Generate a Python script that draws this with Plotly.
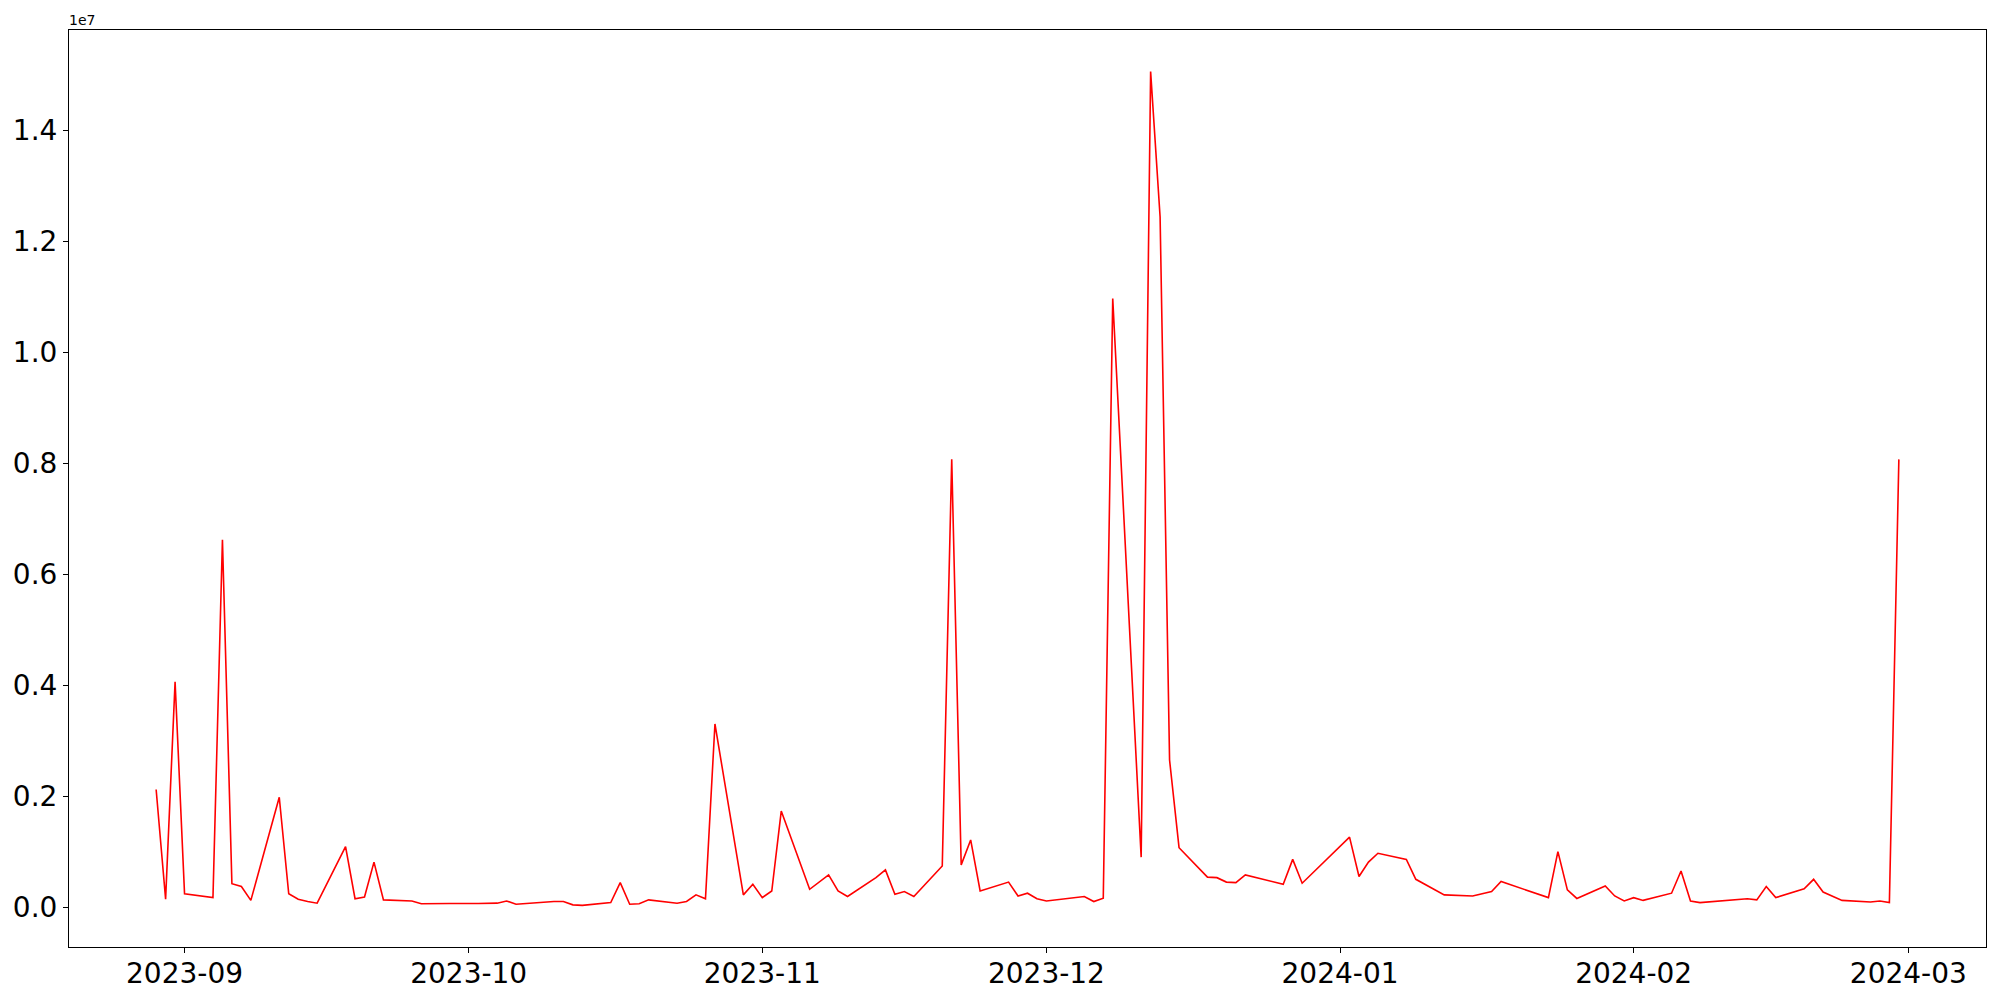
import plotly.graph_objects as go

dates = [
    "2023-08-29", "2023-08-30", "2023-08-31", "2023-09-01", "2023-09-04", "2023-09-05",
    "2023-09-06", "2023-09-07", "2023-09-08", "2023-09-11", "2023-09-12", "2023-09-13",
    "2023-09-14", "2023-09-15", "2023-09-18", "2023-09-19", "2023-09-20", "2023-09-21",
    "2023-09-22", "2023-09-25", "2023-09-26", "2023-09-27", "2023-09-28", "2023-09-29",
    "2023-10-02", "2023-10-03", "2023-10-04", "2023-10-05", "2023-10-06", "2023-10-10",
    "2023-10-11", "2023-10-12", "2023-10-13", "2023-10-16", "2023-10-17", "2023-10-18",
    "2023-10-19", "2023-10-20", "2023-10-23", "2023-10-24", "2023-10-25", "2023-10-26",
    "2023-10-27", "2023-10-30", "2023-10-31", "2023-11-01", "2023-11-02", "2023-11-03",
    "2023-11-06", "2023-11-08", "2023-11-09", "2023-11-10", "2023-11-13", "2023-11-14",
    "2023-11-15", "2023-11-16", "2023-11-17", "2023-11-20", "2023-11-21", "2023-11-22",
    "2023-11-23", "2023-11-24", "2023-11-27", "2023-11-28", "2023-11-29", "2023-11-30",
    "2023-12-01", "2023-12-05", "2023-12-06", "2023-12-07", "2023-12-08", "2023-12-11",
    "2023-12-12", "2023-12-13", "2023-12-14", "2023-12-15", "2023-12-18", "2023-12-19",
    "2023-12-20", "2023-12-21", "2023-12-22", "2023-12-26", "2023-12-27", "2023-12-28",
    "2024-01-02", "2024-01-03", "2024-01-04", "2024-01-05", "2024-01-08", "2024-01-09",
    "2024-01-12", "2024-01-15", "2024-01-17", "2024-01-18", "2024-01-23", "2024-01-24",
    "2024-01-25", "2024-01-26", "2024-01-29", "2024-01-30", "2024-01-31", "2024-02-01",
    "2024-02-02", "2024-02-05", "2024-02-06", "2024-02-07", "2024-02-08", "2024-02-13",
    "2024-02-14", "2024-02-15", "2024-02-16", "2024-02-19", "2024-02-20", "2024-02-21",
    "2024-02-23", "2024-02-26", "2024-02-27", "2024-02-28", "2024-02-29",
]

values = [
    2.12e6, 0.14e6, 4.06e6, 0.24e6, 0.17e6, 6.62e6,
    0.42e6, 0.37e6, 0.12e6, 1.98e6, 0.24e6, 0.14e6,
    0.10e6, 0.07e6, 1.09e6, 0.15e6, 0.18e6, 0.81e6,
    0.13e6, 0.11e6, 0.06e6, 0.065e6, 0.065e6, 0.065e6,
    0.065e6, 0.07e6, 0.07e6, 0.11e6, 0.05e6, 0.10e6,
    0.10e6, 0.04e6, 0.03e6, 0.08e6, 0.44e6, 0.05e6,
    0.06e6, 0.13e6, 0.07e6, 0.10e6, 0.22e6, 0.15e6,
    3.30e6, 0.22e6, 0.41e6, 0.17e6, 0.29e6, 1.73e6,
    0.32e6, 0.58e6, 0.29e6, 0.19e6, 0.53e6, 0.67e6,
    0.23e6, 0.28e6, 0.19e6, 0.74e6, 8.07e6, 0.76e6,
    1.21e6, 0.29e6, 0.45e6, 0.20e6, 0.25e6, 0.15e6,
    0.11e6, 0.19e6, 0.10e6, 0.16e6, 10.97e6, 0.90e6,
    15.06e6, 12.44e6, 2.65e6, 1.07e6, 0.54e6, 0.53e6,
    0.45e6, 0.44e6, 0.58e6, 0.41e6, 0.86e6, 0.43e6,
    1.26e6, 0.55e6, 0.81e6, 0.97e6, 0.86e6, 0.50e6,
    0.22e6, 0.20e6, 0.28e6, 0.46e6, 0.17e6, 1.00e6,
    0.31e6, 0.155e6, 0.38e6, 0.20e6, 0.11e6, 0.17e6,
    0.12e6, 0.25e6, 0.65e6, 0.11e6, 0.08e6, 0.15e6,
    0.13e6, 0.37e6, 0.17e6, 0.33e6, 0.50e6, 0.27e6,
    0.12e6, 0.09e6, 0.11e6, 0.08e6, 8.07e6,
]

x_ticks = ["2023-09-01", "2023-10-01", "2023-11-01", "2023-12-01",
           "2024-01-01", "2024-02-01", "2024-03-01"]
x_tick_labels = ["2023-09", "2023-10", "2023-11", "2023-12", "2024-01", "2024-02", "2024-03"]
y_ticks = [0, 2e6, 4e6, 6e6, 8e6, 10e6, 12e6, 14e6]
y_tick_labels = ["0.0", "0.2", "0.4", "0.6", "0.8", "1.0", "1.2", "1.4"]

fig = go.Figure()
fig.add_trace(go.Scatter(x=dates, y=values, mode="lines",
                         line=dict(color="#ff0000", width=1.6),
                         showlegend=False))

font_family = "DejaVu Sans"
# page body has an 8px margin, so the figure is 16px smaller and margins are shifted
fig.update_layout(
    width=1984, height=984,
    margin=dict(l=61, r=6, t=22, b=45, autoexpand=False),
    paper_bgcolor="white", plot_bgcolor="white",
    font=dict(family=font_family, color="black", size=28),
)
fig.update_xaxes(
    range=["2023-08-19 19:12", "2024-03-09 04:48"],
    tickvals=x_ticks, ticktext=x_tick_labels,
    showgrid=False, zeroline=False,
    showline=True, linecolor="black", linewidth=1.1, mirror=True,
    ticks="outside", ticklen=5, tickwidth=1.1, tickcolor="black",
    ticklabelstandoff=-4,
    tickfont=dict(size=28, family=font_family),
)
fig.update_yaxes(
    range=[-0.72e6, 15.81e6],
    tickvals=y_ticks, ticktext=y_tick_labels,
    showgrid=False, zeroline=False,
    showline=True, linecolor="black", linewidth=1.1, mirror=True,
    ticks="outside", ticklen=5, tickwidth=1.1, tickcolor="black",
    tickfont=dict(size=28, family=font_family),
)
fig.add_annotation(text="1e7", xref="paper", yref="paper", x=0, y=1,
                   xanchor="left", yanchor="bottom", showarrow=False,
                   font=dict(size=14, family=font_family, color="black"),
                   xshift=-2, yshift=0)

fig.write_html("out.html")
